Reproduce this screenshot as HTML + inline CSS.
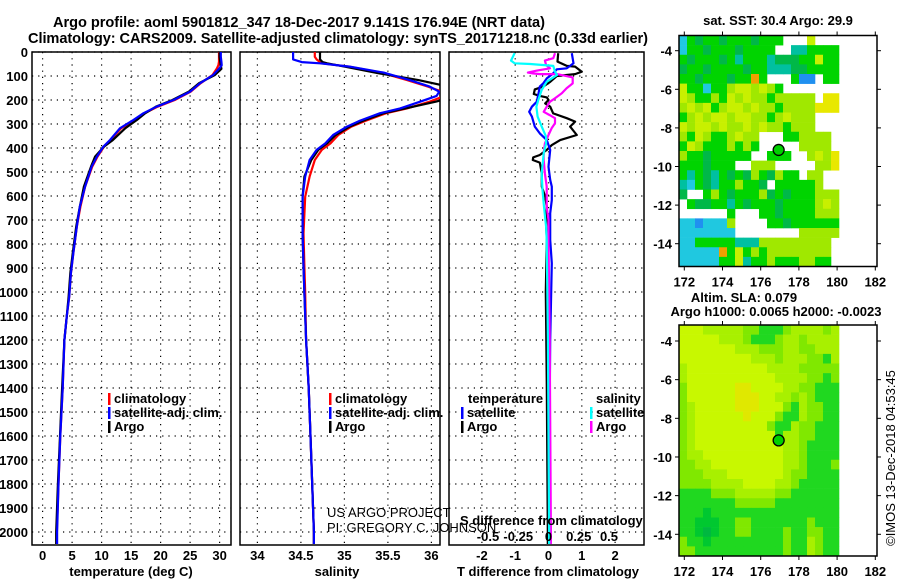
<!DOCTYPE html>
<html><head><meta charset="utf-8"><style>
html,body{margin:0;padding:0;background:#fff;}
svg{display:block;font-family:"Liberation Sans",sans-serif;}
.b{font-weight:bold;font-size:13px;fill:#000;}
.t{font-weight:bold;font-size:14.6px;fill:#000;}
.n{font-size:13px;fill:#000;}
</style></head><body>
<svg id="fig" width="900" height="580" viewBox="0 0 900 580" xmlns="http://www.w3.org/2000/svg">
<defs>
<clipPath id="c1"><rect x="32" y="52" width="199" height="493"/></clipPath>
<clipPath id="c2"><rect x="240" y="52" width="200" height="493"/></clipPath>
<clipPath id="c3"><rect x="449" y="52" width="195" height="493"/></clipPath>
</defs>
<text class="t" x="299" y="27" text-anchor="middle" textLength="492">Argo profile: aoml 5901812_347 18-Dec-2017 9.141S 176.94E (NRT data)</text>
<text class="t" x="338" y="43" text-anchor="middle" textLength="620">Climatology: CARS2009. Satellite-adjusted climatology: synTS_20171218.nc (0.33d earlier)</text>
<g id="g"></g>
</svg>
<script>
// ---------- data ----------
const depthTicks=[0,100,200,300,400,500,600,700,800,900,1000,1100,1200,1300,1400,1500,1600,1700,1800,1900,2000];
const tempTicks=[0,5,10,15,20,25,30];
const salTicks=[34,34.5,35,35.5,36];
const salTickLabels=["34","34.5","35","35.5","36"];
const tdiffTicks=[-2,-1,0,1,2];
const sdiffTicks=[-0.5,-0.25,0,0.25,0.5];
const sdiffTickLabels=["-0.5","-0.25","0","0.25","0.5"];

const tDepth=[0,20,40,55,70,96,130,165,200,228,255,283,318,367,394,436,478,561,645,728,839,922,1020,1100,1200,1400,1600,1800,2000,2050];
const tSat=[30.2,30.2,30.3,30.35,29.9,28.9,26.7,25.0,22.2,19.3,17.1,15.4,13.1,11.4,10.3,9.2,8.3,7.2,6.3,5.8,5.2,4.8,4.5,4.1,3.7,3.4,3.0,2.7,2.45,2.45];
const tClim=[29.9,29.9,29.9,29.8,29.5,28.8,26.8,25.1,22.4,19.5,17.3,15.6,13.3,11.5,10.4,9.3,8.4,7.2,6.4,5.8,5.2,4.8,4.5,4.1,3.7,3.4,3.0,2.7,2.4,2.35];
const tArgo=[30.0,30.0,30.1,30.2,30.3,29.2,26.5,24.8,22.0,19.2,17.4,16.0,14.0,11.9,10.4,8.9,8.2,7.0,6.3,5.7,5.1,4.7,4.4,4.1,3.7,3.3,2.95,2.6,2.3,2.3];

const sDepth=[0,20,31,42,47,61,86,117,144,165,183,207,235,255,286,311,346,381,408,450,519,603,756,894,1005,1200,1400,1600,1800,2000,2050];
const sSat=[34.41,34.41,34.41,34.51,34.72,35.06,35.45,35.75,35.98,36.09,36.06,35.87,35.64,35.41,35.18,35.03,34.87,34.78,34.68,34.60,34.55,34.52,34.52,34.53,34.54,34.56,34.59,34.61,34.63,34.65,34.65];
const sClim=[34.66,34.66,34.68,34.72,34.74,35.05,35.42,35.72,35.96,36.12,36.15,35.98,35.72,35.48,35.25,35.08,34.93,34.84,34.74,34.66,34.60,34.55,34.53,34.54,34.55,34.56,34.59,34.61,34.63,34.65,34.65];
const sArgo=[34.72,34.72,34.72,34.75,34.80,35.00,35.35,35.85,36.2,36.3,36.3,36.05,35.70,35.45,35.22,35.06,34.90,34.80,34.70,34.62,34.54,34.52,34.52,34.53,34.54,34.56,34.59,34.61,34.63,34.65,34.65];

const dTArgoDepth=[5,40,58,61,82,92,100,124,144,156,175,183,189,200,214,228,256,276,290,311,346,367,388,408,429,439,450,461,506,561,603,645,728,783,1000,1400,2000,2050];
const dTArgo=[0.29,0.27,0.55,0.80,1.0,0.80,0.25,0.05,-0.16,-0.41,-0.44,-0.26,-0.05,0,-0.1,0.05,0.14,0.55,0.8,0.65,0.85,0.35,0.1,-0.05,-0.26,-0.46,-0.47,-0.26,-0.2,-0.2,-0.1,-0.05,-0.07,-0.05,-0.08,-0.05,-0.02,-0.02];
const dTSatDepth=[5,47,68,72,89,110,131,144,179,207,228,249,269,311,339,367,408,478,533,561,617,672,783,880,1200,1600,2000,2050];
const dTSat=[0.70,0.75,0.55,0.25,0.14,-0.05,-0.16,-0.26,-0.31,-0.35,-0.5,-0.58,-0.5,-0.41,-0.26,-0.05,0.05,0,0.05,0.1,0.1,0.05,0.05,0.1,0.05,0.03,0.03,0.03];
const dSArgoDepth=[5,26,36,54,68,78,86,89,92,92,106,131,151,172,193,207,228,249,263,276,297,318,346,381,422,450,506,561,645,700,783,1200,1600,2000,2050];
const dSArgo=[0.054,0.04,-0.03,-0.02,0.012,-0.1,-0.17,-0.13,-0.07,0.07,0.2,0.2,0.15,0.11,0.054,0.012,-0.015,-0.04,0.01,0.054,0.054,0.026,0,-0.03,-0.04,-0.04,-0.03,-0.015,-0.015,0,0,0.01,0.015,0.02,0.02];
const dSSatDepth=[5,36,47,50,58,82,96,106,124,158,200,228,269,311,353,381,422,506,575,645,728,783,1200,1600,2000,2050];
const dSSat=[-0.28,-0.31,-0.28,-0.15,0.04,0.054,0.07,0.04,-0.015,-0.056,-0.084,-0.1,-0.09,-0.056,-0.02,-0.02,-0.04,-0.056,-0.05,-0.037,-0.02,-0.015,-0.005,0,0.005,0.005];

const lonTicks=[172,174,176,178,180,182];
const latTicks=[-4,-6,-8,-10,-12,-14];
const argoLon=176.94, argoLat=-9.141;
const sstGrid=[
"CGDGGDGGGDGGG...Y...",
"CGGDGGGDGGGG..TTGGGG",
"GDGGGDGTGGGTDDDGGYGG",
"DGGDGGGGDGGTTTDDGGGG",
"GGDGGGDGGOG...GBB.GG",
"YGGCGGLYYLYLG.......",
"YLGGLGYLYLLGLLLLL.yy",
"LYLYGLYYLYLLGLLLLyyy",
"GLYLYYLYYLLGLYLLL...",
"YLYYLYLLYLYLLGLLL...",
"LGYLGGLYLL...GGLLLL.",
"GYLGGGLGLG.....LLLL.",
"LGGDGGGGG..GGG..LYLy",
"GGGDGGG..LLL.....LLy",
"GTGDTGDGDLGDLGG.LL..",
"TCGDTGGLGGD.GGGGGL..",
"D..GLGDGGGLDGDGGGLLL",
".GDDGGTGDGGGDGGGGLYL",
"......G...GGDGGGGLLL",
"CCBCCCL....GGDGGGGGG",
"CCCCCCC........LLLLL",
"CCGGGGGTTTLLLLLLLLL.",
"CCCCCOGYGLGLLLLLLLL.",
"CCCCCGGYTGGLGGGLLGG."];
const slaGrid=[
"YYYLLLLLMMGGGMLLLLML",
"YYYYYLLLMGGGMLLMLLLL",
"YYYYYYYLLLMMMLLMMLLL",
"YYYYYYYYYLLLMLLLMMGL",
"LYYYYYYYYYYLLLLMMMMM",
"LYYYYYYYYYYYLLLLMMGM",
"MYYYYYYPPYYYYLLMMGGG",
"MYYYYYYPPPYYLLMLMGGG",
"MLYYYYYPPPYYYMGLMMGG",
"MLYYYYYYPYYYMGGLMMGG",
"MLYYYYYYYYYMGGLMMGGG",
"MLYYYYYYYYYYGLLMMGGG",
"MLYYYYYYYYYYYLLMGGGG",
"MLLYYYYYYYYYYLLMGGGG",
"MMLLYYYYYYYYYLLMGGGM",
"MMMLLLYYYYYYYLMMGGGG",
"MMMMLLLLYYYYLLMGGGGG",
"GGGGMMMLLLLLMMGGGGGG",
"GGGGGGGMMMMMGGGGGGGG",
"GGGDGGGGGGGGGGGGGGGG",
"GGDDDGGMMGGGGGGGMGGG",
"GGDEDGGMMGGGGMGGMMGG",
"MGGDGGGGGGGGGMGGLMGG",
"MMGGGGGGGGGGGMGGLMGG"];

// ---------- helpers ----------
const NS="http://www.w3.org/2000/svg";
const G=document.getElementById('g');
function mk(tag,attrs,parent){const e=document.createElementNS(NS,tag);for(const k in attrs)e.setAttribute(k,attrs[k]);(parent||G).appendChild(e);return e;}
function txt(s,x,y,cls,anchor,parent){const e=mk('text',{x:x,y:y,class:cls,'text-anchor':anchor||'start'},parent);e.textContent=s;return e;}
const Y=d=>52+d*0.24;
const TOP=52,BOT=545;
const xT=v=>42.6+v*5.9;
const xS=v=>257.4+(v-34)*87;
const xDT=v=>548.5+v*33.3;
const xDS=v=>548.5+v*121;

function panel(x0,x1,xs,ticks,labels,name){
  const grp=mk('g',{});
  
  
  depthTicks.forEach(d=>{const l=mk('line',{x1:x0,x2:x1,y1:Y(d),y2:Y(d),stroke:'#000','stroke-width':1.2,'stroke-dasharray':'1.2 5'},grp);
    
    });
  ticks.forEach((v,i)=>{const l=mk('line',{x1:xs(v),x2:xs(v),y1:TOP,y2:BOT,stroke:'#000','stroke-width':1.2,'stroke-dasharray':'1.2 5'},grp);
    
    
    if(labels){const t=txt(labels[i],xs(v),560,'b','middle',grp);
      
      }});
  const r=mk('rect',{x:x0,y:TOP,width:x1-x0,height:BOT-TOP,fill:'none',stroke:'#000','stroke-width':1.5},grp);
  
  
  return grp;
}
function line(depths,vals,xs,color,clip,name){
  let p='';depths.forEach((d,i)=>{p+=(i?'L':'M')+xs(vals[i]).toFixed(1)+' '+Y(d).toFixed(1);});
  const e=mk('path',{d:p,fill:'none',stroke:color,'stroke-width':2.2,'stroke-linejoin':'round','clip-path':'url(#'+clip+')'});
  
  
}
function legend(x,y,color,label){
  const r=mk('rect',{x:x,y:y-10,width:2.5,height:12,fill:color});
  
  
  const t=txt(label,x+6,y,'b');
  
  
}

depthTicks.forEach(d=>{const t=txt(String(d),28,Y(d)+5,'b','end');
  
  });

panel(32,231,xT,tempTicks,tempTicks.map(String),'temperature-panel');
panel(240,440,xS,salTicks,salTickLabels,'salinity-panel');
panel(449,644,xDT,tdiffTicks,tdiffTicks.map(String),'difference-panel');

line(tDepth,tClim,xT,'#f00','c1','temp-climatology-line');
line(tDepth,tArgo,xT,'#000','c1','temp-argo-line');
line(tDepth,tSat,xT,'#00f','c1','temp-satellite-line');
line(sDepth,sClim,xS,'#f00','c2','sal-climatology-line');
line(sDepth,sArgo,xS,'#000','c2','sal-argo-line');
line(sDepth,sSat,xS,'#00f','c2','sal-satellite-line');
line(dTArgoDepth,dTArgo,xDT,'#000','c3','tdiff-argo-line');
line(dTSatDepth,dTSat,xDT,'#00f','c3','tdiff-satellite-line');
line(dSArgoDepth,dSArgo,xDS,'#f0f','c3','sdiff-argo-line');
line(dSSatDepth,dSSat,xDS,'#0ff','c3','sdiff-satellite-line');

legend(108,403,'#f00','climatology');legend(108,417,'#00f','satellite-adj. clim.');legend(108,431,'#000','Argo');
legend(329,403,'#f00','climatology');legend(329,417,'#00f','satellite-adj. clim.');legend(329,431,'#000','Argo');
let lt=txt('temperature',468,403,'b');
let ls=txt('salinity',596,403,'b');
legend(461,417,'#00f','satellite');legend(461,431,'#000','Argo');
legend(590,417,'#0ff','satellite');legend(590,431,'#f0f','Argo');

sdiffTicks.forEach((v,i)=>{const t=txt(sdiffTickLabels[i],xDS(v),541,'b','middle');
  
  });
let st=txt('S difference from climatology',460,525,'b');
let u1=txt('US ARGO PROJECT',327,517,'n');
let u2=txt('PI: GREGORY C. JOHNSON',327,532,'n');

let a1=txt('temperature (deg C)',131,576,'b','middle');
let a2=txt('salinity',337,576,'b','middle');
let a3=txt('T difference from climatology',548,576,'b','middle');

// ---------- maps ----------
const sstColors={C:'#20c8e0',T:'#00c0a0',G:'#00d400',D:'#00b848',L:'#a0e800',Y:'#c8f000',y:'#e8e800',O:'#f0a000',B:'#2090f0'};
const slaColors={Y:'#c8f800',L:'#a8f000',M:'#80e800',G:'#20d820',D:'#00c830',E:'#00b840',P:'#e0e800'};
function map(x0,y0,x1,y1,lat4y,latScale,grid,colors,name){
  const grp=mk('g',{});
  
  
  const lonX=l=>684.3+(l-172)*19.1;
  const latY=l=>lat4y+(-4-l)*latScale;
  const rows=grid.length,cw=8,rh=(y1-y0)/rows;
  grid.forEach((row,r)=>{for(let c=0;c<20;c++){const ch=row.charAt(c);if(!colors[ch])continue;
    const e=mk('rect',{x:x0+c*cw,y:(y0+r*rh).toFixed(2),width:cw+0.3,height:(rh+0.3).toFixed(2),fill:colors[ch]},grp);
    
    }});
  const f=mk('rect',{x:x0,y:y0,width:x1-x0,height:y1-y0,fill:'none',stroke:'#000','stroke-width':1.5},grp);
  
  
  lonTicks.forEach(l=>{mk('line',{x1:lonX(l),x2:lonX(l),y1:y0,y2:y0-4,stroke:'#000'},grp);
    mk('line',{x1:lonX(l),x2:lonX(l),y1:y1,y2:y1+4,stroke:'#000'},grp);
    const t=txt(String(l),lonX(l),y1+20,'b','middle',grp);
    
    });
  latTicks.forEach(l=>{mk('line',{x1:x0,x2:x0-4,y1:latY(l),y2:latY(l),stroke:'#000'},grp);
    mk('line',{x1:x1,x2:x1+4,y1:latY(l),y2:latY(l),stroke:'#000'},grp);
    const t=txt(String(l),672,latY(l)+5,'b','end',grp);
    
    });
  const c=mk('circle',{cx:lonX(argoLon),cy:latY(argoLat),r:5.5,fill:'#00d000',stroke:'#000','stroke-width':1.3},grp);
  
  
}
map(679,35.5,877,266.5,50.7,19.3,sstGrid,sstColors,'sst-map');
map(679,325,877,556,341,19.33,slaGrid,slaColors,'sla-map');
let tt=txt('sat. SST: 30.4 Argo: 29.9',778,25,'b','middle');
let t2=txt('Altim. SLA: 0.079',744,302,'b','middle');
let t3=txt('Argo h1000: 0.0065 h2000: -0.0023',776,316,'b','middle');
let cr=txt('©IMOS 13-Dec-2018 04:53:45',0,0,'n','middle');
cr.setAttribute('transform','translate(895,458) rotate(-90)');


</script>
</body></html>
